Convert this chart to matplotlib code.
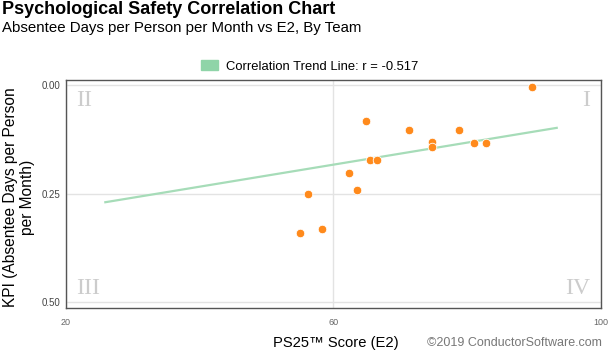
import matplotlib
matplotlib.use('Agg')
import matplotlib.pyplot as plt
from matplotlib.patches import Patch

# scores (E2) and KPI per team
score = [89.7, 64.9, 71.3, 78.8, 74.8, 74.8, 81.0, 82.8, 65.5, 66.5, 62.4, 63.5, 56.2, 58.3, 55.0]
kpi = [0.003, 0.082, 0.102, 0.102, 0.131, 0.143, 0.132, 0.132, 0.172, 0.172, 0.202, 0.241, 0.252, 0.332, 0.342]

trend_x = [25.9, 93.4]
trend_y = [0.270, 0.098]
r_value = -0.517

x_ticks = [20, 60, 100]
y_ticks = [0.00, 0.25, 0.50]
y_tick_labels = ['0.00', '0.25', '0.50']

plt.rcParams['font.family'] = ['Liberation Sans', 'DejaVu Sans']

fig = plt.figure(figsize=(6.1, 3.55), dpi=100)
ax = fig.add_axes([0.108, 0.132, 0.877, 0.643])

ax.plot(trend_x, trend_y, color='#a6dcb8', lw=1.6, zorder=2)
ax.scatter(score, kpi, s=38, color='#ff8a1c', edgecolors='white', linewidths=0.6, zorder=3)

ax.set_xlim(20, 100)
ax.set_ylim(0.515, -0.013)
ax.set_xticks(x_ticks)
ax.set_xticklabels([str(t) for t in x_ticks], fontsize=6.5, color='#666666')
ax.set_yticks(y_ticks)
ax.set_yticklabels(y_tick_labels, fontsize=7, color='#444444')
ax.tick_params(axis='x', length=0, pad=7)
ax.tick_params(axis='y', length=0, pad=4)
ax.grid(True, color='#e3e3e3', lw=1)
ax.set_axisbelow(True)
for s in ax.spines.values():
    s.set_color('#555555')
    s.set_linewidth(1)

# quadrant labels
qkw = dict(transform=ax.transAxes, fontsize=17, color='#cccccc',
           family=['Liberation Serif', 'DejaVu Serif'], va='center')
ax.text(0.02, 0.91, 'II', ha='left', **qkw)
ax.text(0.98, 0.91, 'I', ha='right', **qkw)
ax.text(0.02, 0.085, 'III', ha='left', **qkw)
ax.text(0.98, 0.085, 'IV', ha='right', **qkw)

fig.text(19 / 610, 1 - 197 / 355, 'KPI (Absentee Days per Person\nper Month)', fontsize=11.2,
         rotation=90, ha='center', va='center', multialignment='center', linespacing=1.1)

fig.text(0.004, 1 - 10 / 355, 'Psychological Safety Correlation Chart', fontsize=13, fontweight='bold', va='center')
fig.text(0.004, 1 - 28 / 355, 'Absentee Days per Person per Month vs E2, By Team', fontsize=10.8, va='center')

leg = fig.legend(handles=[Patch(color='#8fd4a8', label='Correlation Trend Line: r = %.3f' % r_value)],
                 loc='center', bbox_to_anchor=(0.508, 0.813), frameon=False, fontsize=9.4,
                 handlelength=1.3, handleheight=0.85, handletextpad=0.6)

fig.text(0.55, 0.033, 'PS25™ Score (E2)', fontsize=10.6, ha='center', va='center')
fig.text(0.987, 0.033, '©2019 ConductorSoftware.com', fontsize=9, ha='right', va='center', color='#777777')

fig.savefig('out.png', dpi=100)
